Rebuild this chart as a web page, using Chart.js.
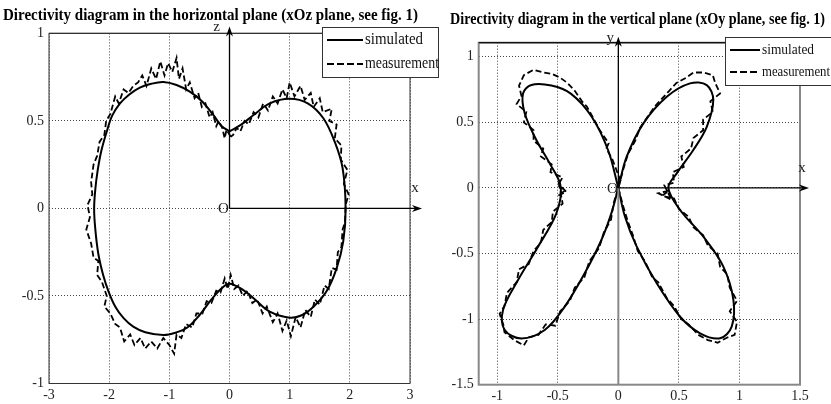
<!DOCTYPE html>
<html><head><meta charset="utf-8">
<script src="https://cdn.jsdelivr.net/npm/chart.js@4.4.0/dist/chart.umd.min.js"></script>
<style>
html,body{margin:0;padding:0;background:#fff;}
#wrap{position:relative;width:831px;height:404px;overflow:hidden;background:#fff;}
canvas{position:absolute;top:0;}
#c1{left:0;} #c2{left:420px;}
</style></head><body>
<div id="wrap"><canvas id="c1" width="440" height="404"></canvas><canvas id="c2" width="411" height="404"></canvas></div>
<script>
// ---------- Left plot: horizontal plane (xOz) ----------
const xozTitle = 'Directivity diagram in the horizontal plane (xOz plane, see fig. 1)';
const xozXTicks = [-3, -2, -1, 0, 1, 2, 3];
const xozYTicks = [-1, -0.5, 0, 0.5, 1];
const xozSimX = [0.00,-0.13,-0.27,-0.45,-0.66,-0.88,-1.10,-1.30,-1.49,-1.67,-1.82,-1.95,-2.04,-2.13,-2.19,-2.23,-2.25,-2.23,-2.18,-2.10,-2.01,-1.90,-1.76,-1.60,-1.40,-1.10,-0.90,-0.70,-0.50,-0.30,-0.13,0.00,0.20,0.40,0.67,1.00,1.20,1.40,1.61,1.78,1.89,1.93,1.88,1.75,1.56,1.30,1.00,0.67,0.40,0.20,0.00];
const xozSimY = [0.44,0.47,0.534,0.61,0.667,0.705,0.722,0.712,0.69,0.65,0.60,0.53,0.44,0.33,0.22,0.11,0.00,-0.12,-0.26,-0.38,-0.475,-0.56,-0.627,-0.675,-0.707,-0.723,-0.71,-0.68,-0.61,-0.52,-0.456,-0.43,-0.46,-0.513,-0.59,-0.624,-0.61,-0.56,-0.475,-0.342,-0.19,0.00,0.23,0.38,0.515,0.60,0.626,0.60,0.534,0.48,0.44];
const xozMeasX = [0.02,-0.05,-0.08,-0.12,-0.18,-0.22,-0.28,-0.33,-0.40,-0.46,-0.52,-0.58,-0.66,-0.72,-0.78,-0.84,-0.88,-0.95,-1.02,-1.08,-1.15,-1.22,-1.30,-1.38,-1.45,-1.52,-1.60,-1.68,-1.76,-1.84,-1.90,-1.98,-2.05,-2.08,-2.16,-2.20,-2.26,-2.30,-2.28,-2.36,-2.32,-2.38,-2.30,-2.26,-2.18,-2.20,-2.12,-2.04,-2.08,-1.98,-1.90,-1.82,-1.75,-1.65,-1.58,-1.48,-1.40,-1.30,-1.20,-1.10,-1.00,-0.92,-0.88,-0.80,-0.72,-0.62,-0.55,-0.45,-0.38,-0.30,-0.22,-0.15,-0.08,-0.03,0.02,0.08,0.15,0.22,0.30,0.38,0.46,0.55,0.62,0.72,0.80,0.88,0.95,1.02,1.10,1.18,1.26,1.35,1.42,1.50,1.58,1.65,1.70,1.78,1.80,1.86,1.88,1.92,1.93,1.98,1.90,1.96,1.85,1.86,1.75,1.78,1.66,1.70,1.55,1.50,1.40,1.35,1.25,1.18,1.08,1.00,0.95,0.88,0.80,0.72,0.64,0.56,0.48,0.40,0.32,0.25,0.18,0.12,0.06,0.02];
const xozMeasY = [0.41,0.45,0.40,0.46,0.50,0.47,0.55,0.52,0.60,0.58,0.66,0.63,0.72,0.68,0.80,0.74,0.86,0.78,0.83,0.76,0.84,0.74,0.80,0.70,0.76,0.72,0.70,0.66,0.68,0.60,0.64,0.54,0.50,0.42,0.38,0.30,0.25,0.15,0.08,0.02,-0.05,-0.12,-0.20,-0.28,-0.30,-0.38,-0.42,-0.50,-0.56,-0.60,-0.66,-0.68,-0.76,-0.72,-0.78,-0.74,-0.80,-0.76,-0.80,-0.74,-0.78,-0.83,-0.72,-0.74,-0.66,-0.68,-0.60,-0.60,-0.53,-0.54,-0.47,-0.48,-0.40,-0.46,-0.38,-0.46,-0.44,-0.50,-0.47,-0.54,-0.52,-0.60,-0.56,-0.65,-0.60,-0.70,-0.64,-0.73,-0.62,-0.68,-0.58,-0.62,-0.52,-0.55,-0.44,-0.46,-0.34,-0.35,-0.25,-0.22,-0.12,-0.08,0.02,0.08,0.14,0.22,0.28,0.36,0.40,0.48,0.50,0.57,0.55,0.63,0.58,0.66,0.62,0.70,0.64,0.72,0.63,0.68,0.60,0.64,0.56,0.60,0.52,0.55,0.48,0.50,0.44,0.46,0.42,0.41];

// ---------- Right plot: vertical plane (xOy) ----------
const xoyTitle = 'Directivity diagram in the vertical plane (xOy plane, see fig. 1)';
const xoyXTicks = [-1, -0.5, 0, 0.5, 1, 1.5];
const xoyYTicks = [-1.5, -1, -0.5, 0, 0.5, 1];
// left branch: origin -> upper-left lobe -> lower-left lobe -> origin
const xoySimLeftX = [0.00,-0.085,-0.22,-0.39,-0.553,-0.718,-0.787,-0.773,-0.677,-0.567,-0.476,-0.512,-0.663,-0.828,-0.952,-0.938,-0.80,-0.608,-0.443,-0.278,-0.14,-0.058,0.00];
const xoySimLeftY = [0.00,0.289,0.543,0.717,0.78,0.785,0.72,0.569,0.365,0.187,0.01,-0.194,-0.448,-0.702,-0.93,-1.083,-1.147,-1.083,-0.905,-0.651,-0.397,-0.194,0.00];
// right branch: origin -> lower-right lobe -> upper-right lobe -> origin
const xoySimRightX = [0.00,0.055,0.152,0.317,0.51,0.675,0.84,0.936,0.95,0.867,0.702,0.51,0.413,0.482,0.619,0.73,0.784,0.73,0.592,0.40,0.207,0.069,0.00];
const xoySimRightY = [0.00,-0.22,-0.448,-0.727,-0.982,-1.108,-1.146,-1.057,-0.854,-0.60,-0.372,-0.168,0.00,0.111,0.289,0.466,0.67,0.784,0.797,0.695,0.492,0.238,0.00];
const xoyMeasLeftX = [0.02,-0.05,-0.10,-0.08,-0.16,-0.20,-0.26,-0.30,-0.36,-0.42,-0.48,-0.55,-0.62,-0.70,-0.78,-0.82,-0.80,-0.84,-0.76,-0.78,-0.70,-0.70,-0.62,-0.64,-0.55,-0.56,-0.46,-0.50,-0.44,-0.50,-0.43,-0.49,-0.46,-0.54,-0.55,-0.62,-0.64,-0.70,-0.74,-0.82,-0.84,-0.92,-0.94,-0.98,-0.95,-0.94,-0.86,-0.78,-0.74,-0.66,-0.60,-0.52,-0.48,-0.40,-0.36,-0.28,-0.24,-0.16,-0.12,-0.06,-0.04,0.00];
const xoyMeasLeftY = [0.05,0.22,0.30,0.34,0.45,0.52,0.62,0.66,0.74,0.80,0.84,0.87,0.88,0.90,0.86,0.78,0.70,0.64,0.58,0.50,0.44,0.36,0.30,0.24,0.18,0.12,0.08,0.02,-0.02,-0.06,-0.03,0.03,-0.12,-0.18,-0.26,-0.32,-0.42,-0.48,-0.58,-0.62,-0.72,-0.80,-0.90,-0.96,-1.04,-1.10,-1.16,-1.20,-1.14,-1.12,-1.04,-1.05,-0.94,-0.86,-0.76,-0.68,-0.56,-0.46,-0.34,-0.24,-0.12,0.00];
const xoyMeasRightX = [0.00,0.04,0.08,0.12,0.16,0.22,0.28,0.33,0.40,0.46,0.52,0.58,0.66,0.74,0.82,0.90,0.96,0.98,0.92,0.98,0.92,0.90,0.84,0.82,0.74,0.70,0.62,0.58,0.50,0.46,0.36,0.42,0.33,0.44,0.38,0.46,0.45,0.54,0.52,0.60,0.62,0.70,0.70,0.78,0.76,0.84,0.80,0.78,0.70,0.62,0.56,0.48,0.42,0.36,0.30,0.24,0.18,0.14,0.08,0.04,0.00];
const xoyMeasRightY = [0.00,-0.14,-0.26,-0.36,-0.48,-0.56,-0.68,-0.72,-0.84,-0.90,-1.00,-1.04,-1.12,-1.16,-1.18,-1.14,-1.12,-1.02,-0.94,-0.86,-0.76,-0.66,-0.60,-0.50,-0.44,-0.36,-0.30,-0.22,-0.16,-0.08,-0.06,-0.02,-0.04,-0.09,0.02,0.04,0.12,0.16,0.24,0.30,0.38,0.44,0.52,0.58,0.66,0.72,0.80,0.86,0.88,0.88,0.84,0.80,0.74,0.68,0.62,0.54,0.46,0.36,0.26,0.14,0.00];

const legendLabels = ['simulated', 'measurement'];

const zip = (xs, ys) => xs.map((x, i) => ({x, y: ys[i]}));
const SERIF = "'Liberation Serif', 'Times New Roman', serif";

const decor = {
  id: 'decor',
  afterDraw(chart, args, o) {
    const ctx = chart.ctx, a = chart.chartArea;
    const xs = chart.scales.x, ys = chart.scales.y;
    const x0 = xs.getPixelForValue(0), y0 = ys.getPixelForValue(0);
    ctx.save();
    // plot frame
    ctx.strokeStyle = o.boxColor; ctx.lineWidth = o.boxWidth;
    ctx.strokeRect(a.left, a.top, a.right - a.left, a.bottom - a.top);
    ctx.beginPath(); ctx.moveTo(a.left, a.top); ctx.lineTo(a.right, a.top);
    ctx.strokeStyle = o.topColor; ctx.lineWidth = 1.2; ctx.stroke();
    // vertical axis through origin
    if (o.fullVertical) {
      ctx.beginPath(); ctx.moveTo(x0, a.bottom); ctx.lineTo(x0, y0);
      ctx.strokeStyle = o.boxColor; ctx.lineWidth = o.boxWidth; ctx.stroke();
    }
    ctx.strokeStyle = '#000'; ctx.fillStyle = '#000'; ctx.lineWidth = 1.3;
    const tipY = a.top - o.upTip;
    ctx.beginPath(); ctx.moveTo(x0, y0); ctx.lineTo(x0, tipY + 4); ctx.stroke();
    ctx.beginPath(); ctx.moveTo(x0, tipY); ctx.lineTo(x0 - 3.5, tipY + 10); ctx.lineTo(x0, tipY + 7); ctx.lineTo(x0 + 3.5, tipY + 10); ctx.closePath(); ctx.fill();
    const tipX = a.right + o.rightTip;
    ctx.beginPath(); ctx.moveTo(x0, y0); ctx.lineTo(tipX - 4, y0); ctx.stroke();
    ctx.beginPath(); ctx.moveTo(tipX, y0); ctx.lineTo(tipX - 10, y0 - 3.5); ctx.lineTo(tipX - 7, y0); ctx.lineTo(tipX - 10, y0 + 3.5); ctx.closePath(); ctx.fill();
    // axis letters
    ctx.font = '15px ' + SERIF; ctx.fillStyle = '#222'; ctx.textAlign = 'center'; ctx.textBaseline = 'middle';
    ctx.fillText(o.upLabel, x0 + o.upLabelDx, tipY + 1);
    ctx.fillText('x', tipX - 7, y0 - 20);
    ctx.fillText('O', x0 - 6, y0 + 1);
    // legend
    const L = o.legend;
    ctx.fillStyle = '#fff'; ctx.fillRect(L.x, L.y, L.w, L.h);
    ctx.strokeStyle = '#333'; ctx.lineWidth = 1; ctx.strokeRect(L.x + 0.5, L.y + 0.5, L.w, L.h);
    ctx.font = L.font + 'px ' + SERIF; ctx.textAlign = 'left'; ctx.textBaseline = 'middle'; ctx.fillStyle = '#111';
    legendLabels.forEach((lab, i) => {
      const yy = L.y + L.row0 + i * L.rowH;
      ctx.beginPath(); ctx.setLineDash(i === 0 ? [] : [7, 3]);
      ctx.strokeStyle = '#000'; ctx.lineWidth = 2;
      ctx.moveTo(L.x + L.l0, yy); ctx.lineTo(L.x + L.l1, yy); ctx.stroke();
      ctx.setLineDash([]);
      ctx.fillText(lab, L.x + L.l1 + 2, yy, L.tw[i]);
    });
    ctx.restore();
  }
};

function tickCfg(min, max, ticks, sizeKey, size, pad) {
  return {
    type: 'linear', min, max,
    afterBuildTicks: s => { s.ticks = ticks.map(v => ({value: v})); },
    afterFit: s => { s[sizeKey] = size; },
    ticks: {autoSkip: false, maxRotation: 0, padding: pad, color: '#222',
      font: {family: SERIF, size: 14}, callback: v => String(v)},
    grid: {color: '#444', lineWidth: 1, drawTicks: false, tickLength: 0},
    border: {display: false, dash: [1, 2]}
  };
}

function makeChart(id, o) {
  return new Chart(document.getElementById(id), {
    type: 'scatter',
    data: {datasets: o.datasets},
    options: {
      responsive: false, animation: false, devicePixelRatio: 1,
      layout: {padding: o.padding},
      plugins: {
        legend: {display: false}, tooltip: {enabled: false},
        title: {display: true, text: o.title, color: '#000',
          font: {family: SERIF, size: 17, weight: 'bold'}, padding: o.titlePad},
        decor: o.decor
      },
      scales: {
        x: Object.assign(tickCfg(o.xMin, o.xMax, o.xTicks, 'height', o.xH, 3), {position: 'bottom'}),
        y: Object.assign(tickCfg(o.yMin, o.yMax, o.yTicks, 'width', o.yW, 5), {position: 'left'}),
        yR: {position: 'right', display: true, ticks: {display: false}, grid: {display: false},
          border: {display: false}, afterFit: s => { s.width = o.rW; }}
      }
    },
    plugins: [decor]
  });
}

function ds(label, xs, ys, dashed) {
  return {label, data: zip(xs, ys), showLine: true, pointRadius: 0, borderColor: '#000',
    borderWidth: dashed ? 1.8 : 2, borderDash: dashed ? [6, 3] : [], tension: dashed ? 0 : 0.35, fill: false};
}

makeChart('c1', {
  title: xozTitle,
  padding: {left: 3, right: 22, top: 0, bottom: 0},
  titlePad: {top: 5, bottom: 8},
  xMin: -3, xMax: 3, yMin: -1, yMax: 1, xTicks: xozXTicks, yTicks: xozYTicks,
  xH: 20.5, yW: 46, rW: 8,
  datasets: [ds(legendLabels[0], xozSimX, xozSimY, false), ds(legendLabels[1], xozMeasX, xozMeasY, true)],
  decor: {boxColor: '#333', topColor: '#333', boxWidth: 1, fullVertical: false, upTip: 7, rightTip: 12, upLabel: 'z', upLabelDx: -13,
    legend: {x: 322, y: 27, w: 116, h: 50, row0: 13, rowH: 24, l0: 5, l1: 41, font: 16, tw: [58, 74]}}
});

makeChart('c2', {
  title: xoyTitle,
  padding: {left: 30, right: 6, top: 0, bottom: 0},
  titlePad: {top: 9, bottom: 13.3},
  xMin: -1.153, xMax: 1.5, yMin: -1.5, yMax: 1.107, xTicks: xoyXTicks, yTicks: xoyYTicks,
  xH: 19.3, yW: 28.7, rW: 25,
  datasets: [ds(legendLabels[0], xoySimLeftX, xoySimLeftY, false), ds(legendLabels[0], xoySimRightX, xoySimRightY, false),
    ds(legendLabels[1], xoyMeasLeftX, xoyMeasLeftY, true), ds(legendLabels[1], xoyMeasRightX, xoyMeasRightY, true)],
  decor: {boxColor: '#888', topColor: '#111', boxWidth: 2, fullVertical: true, upTip: 6, rightTip: 9, upLabel: 'y', upLabelDx: -8,
    legend: {x: 305, y: 37, w: 110, h: 48, row0: 13, rowH: 22, l0: 5, l1: 35, font: 15, tw: [52, 68]}}
});
</script>
</body></html>
